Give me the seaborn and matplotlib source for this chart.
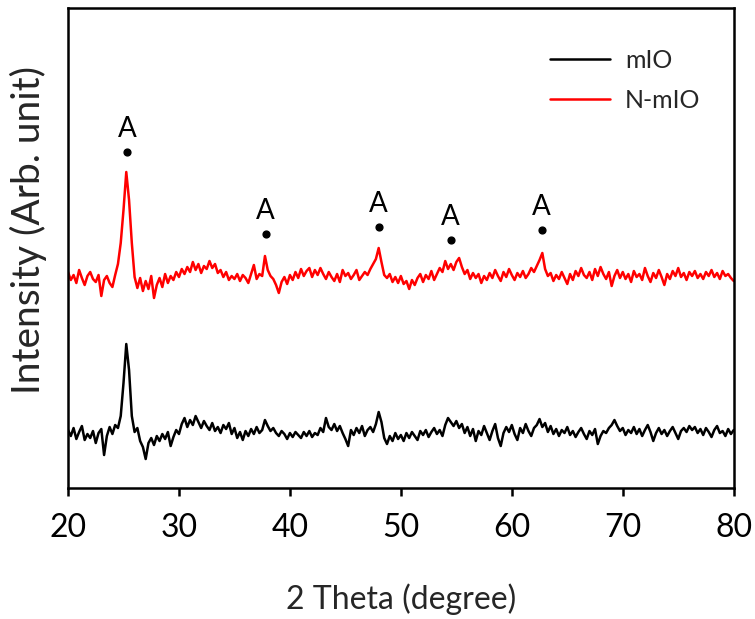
import numpy as np
import pandas as pd
import matplotlib
matplotlib.use("Agg")
import matplotlib.pyplot as plt
import seaborn as sns

# ---- data (arbitrary intensity units) ----
series_names = ["mIO", "N-mIO"]
series_colors = ["#000000", "#ff0000"]

n_mio = [
    216, 208, 213, 205, 218, 210, 203, 212, 216, 209, 206, 213, 192, 208, 212, 205, 201, 213, 224, 245,  # 20-24.75
    278, 316, 288, 245, 211, 200, 210, 197, 207, 199, 212, 190, 203, 210, 201, 214, 205, 212, 208, 216,  # 25-29.75
    211, 219, 214, 221, 216, 226, 218, 224, 215, 222, 219, 227, 220, 224, 215, 218, 211, 216, 208, 212,  # 30-34.75
    209, 214, 207, 213, 210, 205, 214, 223, 209, 214, 212, 232, 218, 212, 209, 203, 195, 206, 211, 204,  # 35-39.75
    213, 208, 216, 210, 219, 212, 217, 220, 211, 218, 213, 220, 214, 209, 216, 211, 207, 214, 206, 218,  # 40-44.75
    212, 215, 209, 213, 218, 208, 212, 216, 213, 219, 224, 229, 240, 226, 213, 210, 214, 206, 211, 205,  # 45-49.75
    212, 204, 207, 199, 208, 203, 210, 214, 206, 213, 209, 217, 208, 214, 220, 216, 227, 219, 224, 218,  # 50-54.75
    226, 230, 221, 214, 218, 209, 215, 210, 214, 205, 212, 208, 215, 210, 218, 212, 207, 216, 211, 219,  # 55-59.75
    213, 208, 215, 211, 217, 210, 214, 220, 216, 222, 228, 235, 219, 212, 215, 207, 213, 209, 216, 210,  # 60-64.75
    204, 214, 208, 217, 212, 220, 213, 210, 216, 208, 219, 212, 221, 214, 209, 216, 202, 212, 218, 210,  # 65-69.75
    216, 209, 214, 206, 217, 211, 214, 208, 220, 212, 206, 215, 210, 218, 211, 203, 214, 209, 217, 212,  # 70-74.75
    220, 211, 215, 208, 216, 212, 217, 210, 214, 209, 216, 212, 218, 211, 215, 209, 217, 212, 214, 210,  # 75-79.75
    207,                                                                                                  # 80
]

mio = [
    58, 52, 60, 49, 56, 62, 48, 54, 50, 57, 45, 55, 59, 33, 52, 61, 54, 63, 60, 72,  # 20-24.75
    105, 144, 118, 72, 56, 60, 47, 41, 29, 45, 50, 43, 52, 47, 54, 49, 56, 42, 51, 58,  # 25-29.75
    54, 64, 70, 61, 68, 63, 72, 66, 60, 67, 62, 58, 65, 57, 61, 55, 63, 59, 65, 54,  # 30-34.75
    60, 50, 56, 48, 57, 52, 59, 54, 61, 55, 58, 68, 62, 57, 60, 55, 52, 57, 54, 49,  # 35-39.75
    55, 51, 56, 53, 50, 56, 52, 57, 51, 55, 53, 60, 56, 70, 61, 58, 64, 57, 62, 55,  # 40-44.75
    49, 42, 58, 53, 60, 55, 62, 52, 58, 61, 56, 64, 76, 66, 50, 44, 52, 47, 55, 49,  # 45-49.75
    53, 47, 55, 50, 56, 52, 48, 57, 53, 58, 51, 56, 60, 54, 58, 52, 63, 70, 66, 62,  # 50-54.75
    67, 60, 64, 55, 61, 52, 59, 47, 57, 53, 62, 55, 48, 57, 64, 50, 42, 55, 61, 56,  # 55-59.75
    63, 54, 48, 60, 55, 64, 57, 52, 60, 63, 69, 61, 65, 56, 62, 54, 59, 52, 58, 55,  # 60-64.75
    61, 53, 57, 51, 56, 60, 54, 49, 57, 53, 59, 44, 52, 57, 55, 60, 63, 68, 62, 57,  # 65-69.75
    60, 53, 58, 55, 61, 54, 59, 52, 58, 63, 56, 47, 55, 60, 54, 58, 52, 57, 61, 55,  # 70-74.75
    49, 57, 60, 56, 62, 58, 61, 55, 59, 53, 60, 56, 51, 58, 62, 55, 57, 52, 59, 54,  # 75-79.75
    58,                                                                               # 80
]

anatase_pos = [25.3, 37.8, 48.0, 54.5, 62.7]
anatase_height = [336, 254, 261, 248, 258]
peak_label = "A"

x_ticks = [20, 30, 40, 50, 60, 70, 80]
x_label = "2 Theta (degree)"
y_label = "Intensity (Arb. unit)"

# ---- build long table ----
frames = []
for name, vals in zip(series_names, [mio, n_mio]):
    frames.append(pd.DataFrame({
        "two_theta": np.linspace(20, 80, len(vals)),
        "intensity": vals,
        "sample": name,
    }))
df = pd.concat(frames, ignore_index=True)

sns.set_theme(style="white")
plt.rcParams["font.family"] = ["Lato", "DejaVu Sans"]

fig = plt.figure(figsize=(7.55, 6.19), dpi=100)
ax = fig.add_axes([0.0901, 0.2116, 0.8817, 0.7755])

sns.lineplot(data=df, x="two_theta", y="intensity", hue="sample",
             hue_order=series_names, palette=series_colors,
             linewidth=1.8, ax=ax, estimator=None, sort=False)

ax.scatter(anatase_pos, anatase_height, s=24, color="black", zorder=5)
for xp, yp in zip(anatase_pos, anatase_height):
    ax.annotate(peak_label, (xp, yp), xytext=(0, 7), textcoords="offset points",
                ha="center", va="bottom", fontsize=20, color="black")

ax.set_xlim(20, 80)
ax.set_ylim(0, 480)
ax.set_xticks(x_ticks)
ax.set_xticklabels([str(t) for t in x_ticks], fontsize=23)
ax.set_yticks([])
ax.set_xlabel(x_label, fontsize=23, labelpad=29)
ax.set_ylabel(y_label, fontsize=28)
ax.yaxis.set_label_coords(-0.031, 0.5375)
ax.tick_params(axis="x", direction="out", length=6, width=1.8, pad=12,
               bottom=True, colors="black")

for s in ax.spines.values():
    s.set_color("black")
    s.set_linewidth(1.8)

leg = ax.legend(loc="upper right", bbox_to_anchor=(0.984, 0.962), frameon=False,
                fontsize=18, handlelength=2.4, handletextpad=0.6, labelspacing=0.7)
for line in leg.get_lines():
    line.set_linewidth(1.8)

fig.savefig("out.png", dpi=100)
